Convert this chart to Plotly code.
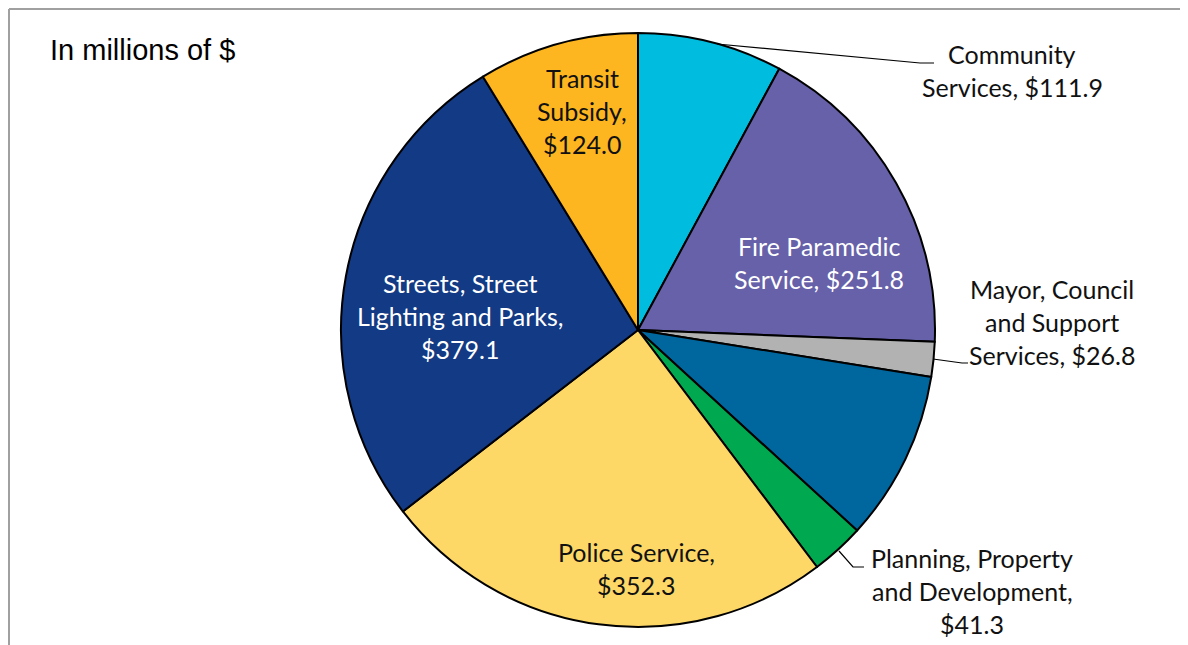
import plotly.graph_objects as go

OFF = 8  # page body margin
W, H = 1188 - OFF, 645 - OFF

categories = ["Community Services", "Fire Paramedic Service", "Mayor, Council and Support Services",
              "Unlabelled", "Planning, Property and Development", "Police Service",
              "Streets, Street Lighting and Parks", "Transit Subsidy"]
values = [111.9, 251.8, 26.8, 131.5, 41.3, 352.3, 379.1, 124.0]
colors = ["#00BCDE", "#6661A9", "#B2B2B2", "#00669E", "#00A94F", "#FDD867", "#133A84", "#FDB61F"]

label_lines = {
    "Community Services": ["Community", "Services, $111.9"],
    "Fire Paramedic Service": ["Fire Paramedic", "Service, $251.8"],
    "Mayor, Council and Support Services": ["Mayor, Council", "and Support", "Services, $26.8"],
    "Planning, Property and Development": ["Planning, Property", "and Development,", "$41.3"],
    "Police Service": ["Police Service,", "$352.3"],
    "Streets, Street Lighting and Parks": ["Streets, Street", "Lighting and Parks,", "$379.1"],
    "Transit Subsidy": ["Transit", "Subsidy,", "$124.0"],
}
# label block placement (screen pixel centre x, first-line y, text colour)
label_pos = {
    "Community Services": (1012, 54, "#111111"),
    "Fire Paramedic Service": (819, 246, "white"),
    "Mayor, Council and Support Services": (1052, 289, "#111111"),
    "Planning, Property and Development": (972, 558, "#111111"),
    "Police Service": (636, 552, "#111111"),
    "Streets, Street Lighting and Parks": (460, 283, "white"),
    "Transit Subsidy": (582, 78, "#111111"),
}

cx, cy, r = 638 - OFF, 330 - OFF, 297


def px(x, y):
    return (x - OFF) / W, 1 - (y - OFF) / H


fig = go.Figure(go.Pie(
    labels=categories, values=values, sort=False, direction="clockwise", rotation=0,
    marker=dict(colors=colors, line=dict(color="black", width=2)),
    textinfo="none", hoverinfo="label+value", showlegend=False,
    domain=dict(x=[(cx - r) / W, (cx + r) / W], y=[1 - (cy + r) / H, 1 - (cy - r) / H]),
))

annotations = []
LS = 33
for name, lines in label_lines.items():
    x0, y0, col = label_pos[name]
    for i, ln in enumerate(lines):
        ax, ay = px(x0, y0 + i * LS)
        annotations.append(dict(x=ax, y=ay, xref="paper", yref="paper", text=ln, showarrow=False,
                                xanchor="center", yanchor="middle",
                                font=dict(family="Lato, Noto Sans, sans-serif", size=25, color=col)))

tx, ty = px(48, 50)
annotations.append(dict(x=tx, y=ty, xref="paper", yref="paper", text="In millions of $", showarrow=False,
                        xanchor="left", yanchor="middle",
                        font=dict(family="Liberation Sans, Arial, sans-serif", size=29, color="black")))


def path(points):
    d = ""
    for i, (x, y) in enumerate(points):
        X, Y = px(x, y)
        d += ("M" if i == 0 else "L") + f"{X},{Y} "
    return d


leaders = [
    [(717, 44), (920, 63), (934, 63)],
    [(933, 359), (962, 363), (968, 363)],
    [(839, 551), (853, 567), (864, 567)],
]
shapes = []
for pts in leaders:
    shapes.append(dict(type="path", xref="paper", yref="paper", path=path(pts),
                       line=dict(color="black", width=1.2)))

# frame
fx, fy = px(9, 9)
shapes.append(dict(type="line", xref="paper", yref="paper", x0=fx, x1=1, y0=fy, y1=fy,
                   line=dict(color="#A0A0A0", width=2)))
shapes.append(dict(type="line", xref="paper", yref="paper", x0=fx, x1=fx, y0=fy, y1=0,
                   line=dict(color="#A0A0A0", width=2)))

fig.update_layout(width=W, height=H, autosize=False, margin=dict(l=0, r=0, t=0, b=0),
                  paper_bgcolor="white", plot_bgcolor="white",
                  annotations=annotations, shapes=shapes)

fig.write_html("out.html")
